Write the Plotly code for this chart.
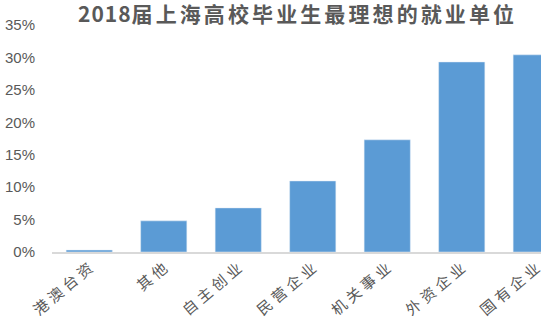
import plotly.graph_objects as go

categories = ["港澳台资", "其他", "自主创业", "民营企业", "机关事业", "外资企业", "国有企业"]
values = [0.3, 4.8, 6.8, 10.95, 17.3, 29.3, 30.4]
y_ticks = [0, 5, 10, 15, 20, 25, 30, 35]
y_tick_labels = [f"{v}%" for v in y_ticks]
title_year = "2018"
title_rest = "届上海高校毕业生最理想的就业单位"

W, H = 541, 323


def spaced(s, px):
    # letter spacing between characters, none after the last one
    return f'<span style="letter-spacing:{px}px">{s[:-1]}</span>{s[-1]}'


x_labels = [spaced(c, 4) for c in categories]

fig = go.Figure(go.Bar(
    x=list(range(len(categories))), y=values, marker_color="#5b9bd5", width=0.62,
))

fig.update_layout(
    width=W, height=H,
    margin=dict(l=52, r=0, t=25, b=71),
    plot_bgcolor="white", paper_bgcolor="white",
    showlegend=False,
    title=dict(
        text=(f'<b><span style="letter-spacing:1px">{title_year}</span>'
              f'{spaced(title_rest, 3.1)}</b>'),
        x=78 / W, xanchor="left", y=1 - 14.5 / H, yanchor="middle",
        font=dict(family="Noto Sans CJK SC", size=21, color="#595959"),
    ),
    xaxis=dict(
        range=[-0.5, 6.064], tickangle=-40, showgrid=False, automargin=False,
        tickvals=list(range(len(categories))), ticktext=x_labels,
        ticklabeloverflow="allow",
        showline=True, linecolor="#d9d9d9", linewidth=1.5, ticks="",
        tickfont=dict(family="Noto Sans CJK SC", size=15, color="#595959"),
    ),
    yaxis=dict(
        range=[0, 35], tickvals=y_ticks, ticktext=y_tick_labels,
        showgrid=False, zeroline=False, showline=False, ticks="", automargin=False,
        ticklabelstandoff=16,
        tickfont=dict(family="Liberation Sans", size=15, color="#595959"),
    ),
)

fig.write_html("out.html")
